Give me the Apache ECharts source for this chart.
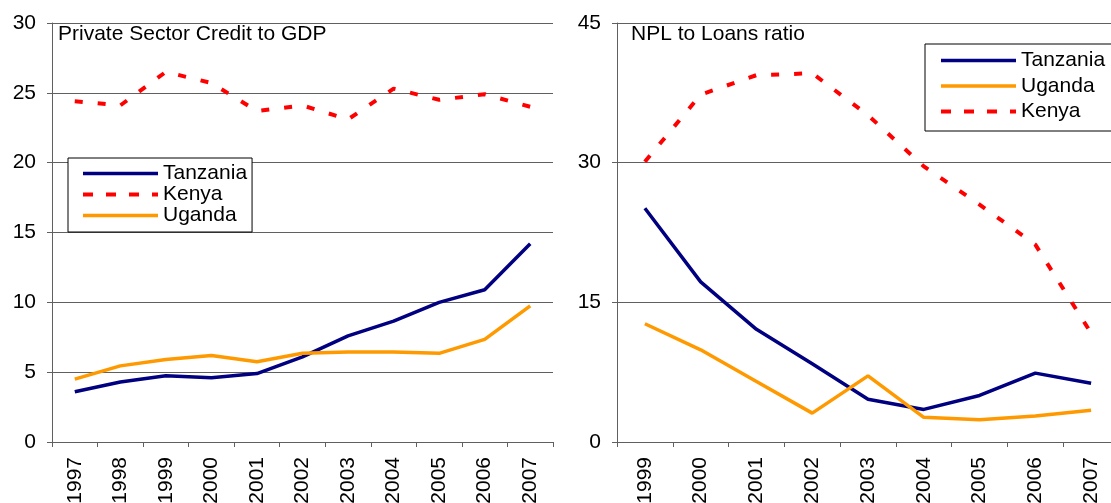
<!DOCTYPE html>
<html>
<head>
<meta charset="utf-8">
<script src="https://cdn.jsdelivr.net/npm/echarts@6/dist/echarts.min.js"></script>
<style>
  html, body { margin: 0; padding: 0; background: #fff; }
  #main { width: 1111px; height: 503px; }
</style>
</head>
<body>
<div id="main"></div>
<script>
// left panel: private sector credit to GDP
var creditYears = ['1997', '1998', '1999', '2000', '2001', '2002', '2003', '2004', '2005', '2006', '2007'];
var tanzaniaCredit = [3.6, 4.3, 4.75, 4.6, 4.9, 6.1, 7.6, 8.65, 10.0, 10.9, 14.2];
var kenyaCredit = [24.4, 24.1, 26.5, 25.7, 23.7, 24.1, 23.1, 25.3, 24.5, 24.9, 24.0];
var ugandaCredit = [4.5, 5.45, 5.9, 6.2, 5.75, 6.35, 6.45, 6.45, 6.35, 7.35, 9.75];

// right panel: NPL to loans ratio
var nplYears = ['1999', '2000', '2001', '2002', '2003', '2004', '2005', '2006', '2007'];
var tanzaniaNpl = [25.1, 17.2, 12.1, 8.4, 4.6, 3.5, 5.0, 7.4, 6.3];
var ugandaNpl = [12.7, 9.9, 6.5, 3.1, 7.1, 2.65, 2.4, 2.8, 3.4];
var kenyaNpl = [30.1, 37.3, 39.4, 39.6, 35.1, 29.6, 25.5, 21.2, 11.7];

var font = "'Liberation Sans', Arial, sans-serif";
var fs = 21;
var gridColor = '#606060';
var navy = '#000080', orange = '#ff9900', red = '#ff0000';

function xAxis(idx, data) {
  return {
    type: 'category', gridIndex: idx, data: data, boundaryGap: true,
    axisLine: { lineStyle: { color: gridColor, width: 1 } },
    axisTick: { show: true, length: 5, lineStyle: { color: gridColor } },
    axisLabel: { rotate: 90, margin: 15, color: '#000', fontSize: fs, fontFamily: font, interval: 0 },
    splitLine: { show: false }
  };
}
function yAxis(idx, max, step) {
  return {
    type: 'value', gridIndex: idx, min: 0, max: max, interval: step,
    axisLine: { show: true, lineStyle: { color: gridColor, width: 1 } },
    axisTick: { show: true, length: 5, lineStyle: { color: gridColor } },
    axisLabel: { margin: 16, color: '#000', fontSize: fs, fontFamily: font },
    splitLine: { show: true, lineStyle: { color: gridColor, width: 1 } }
  };
}
function line(name, idx, data, color, dashed) {
  return {
    name: name, type: 'line', xAxisIndex: idx, yAxisIndex: idx, data: data,
    symbol: 'none', animation: false,
    lineStyle: dashed ? { color: color, width: 4, type: [8, 15] } : { color: color, width: 3.5 },
    itemStyle: { color: color }
  };
}
// legend entries: line only, no marker
function entry(name) {
  var dashed = name === 'Kenya';
  return {
    name: name,
    itemStyle: { opacity: 0 },
    lineStyle: dashed ? { width: 4, type: [10, 13] } : { width: 3.5 }
  };
}
var legendText = { fontSize: fs, fontFamily: font, color: '#000', lineHeight: 20 };

var chart = echarts.init(document.getElementById('main'));
chart.setOption({
  animation: false,
  title: [
    { text: 'Private Sector Credit to GDP', left: 58, top: 24, padding: 0,
      textStyle: { fontSize: fs, fontWeight: 'normal', fontFamily: font, color: '#000' } },
    { text: 'NPL to Loans ratio', left: 631, top: 24, padding: 0,
      textStyle: { fontSize: fs, fontWeight: 'normal', fontFamily: font, color: '#000' } }
  ],
  legend: [
    { data: ['Tanzania', 'Kenya', 'Uganda'].map(entry), orient: 'vertical', left: 68, top: 158,
      itemWidth: 75, itemHeight: 14, itemGap: 0, padding: [5, 5, 6, 13],
      borderColor: '#000', borderWidth: 1, backgroundColor: '#fff', textStyle: legendText },
    { data: ['Tanzania', 'Uganda', 'Kenya'].map(entry), orient: 'vertical', left: 925, top: 44,
      itemWidth: 75, itemHeight: 14, itemGap: 4.5, padding: [6, 8, 9, 14],
      borderColor: '#000', borderWidth: 1, backgroundColor: '#fff', textStyle: legendText }
  ],
  grid: [
    { left: 52, right: 558, top: 23, bottom: 61, containLabel: false, outerBoundsMode: 'none' },
    { left: 617, right: -8, top: 23, bottom: 61, containLabel: false, outerBoundsMode: 'none' }
  ],
  xAxis: [xAxis(0, creditYears), xAxis(1, nplYears)],
  yAxis: [yAxis(0, 30, 5), yAxis(1, 45, 15)],
  series: [
    line('Tanzania', 0, tanzaniaCredit, navy, false),
    line('Kenya', 0, kenyaCredit, red, true),
    line('Uganda', 0, ugandaCredit, orange, false),
    line('Tanzania', 1, tanzaniaNpl, navy, false),
    line('Uganda', 1, ugandaNpl, orange, false),
    line('Kenya', 1, kenyaNpl, red, true)
  ]
});
</script>
</body>
</html>
